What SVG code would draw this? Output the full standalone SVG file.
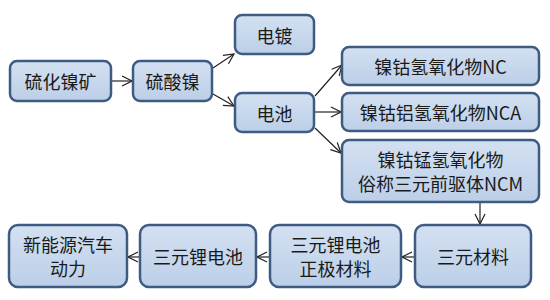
<svg xmlns="http://www.w3.org/2000/svg" width="550" height="300" viewBox="0 0 550 300">
<defs>
<linearGradient id="g" x1="0" y1="0" x2="0" y2="1">
<stop offset="0" stop-color="#d3e0f1"/>
<stop offset="1" stop-color="#bccfe8"/>
</linearGradient>
<marker id="a" viewBox="0 0 12 12" refX="11" refY="6" markerWidth="12" markerHeight="12" markerUnits="userSpaceOnUse" orient="auto">
<path d="M1,1 L11,6 L1,11" fill="none" stroke="#222" stroke-width="1.2"/>
</marker>
<style>
.n{fill:url(#g);stroke:#3f5b82;stroke-width:2.5}
.t{font-family:"Noto Sans CJK SC","Microsoft YaHei",sans-serif;font-size:18px;fill:#1a1a1a;text-anchor:middle;dominant-baseline:central}
.c{stroke:#222;stroke-width:1.2;fill:none;marker-end:url(#a)}
</style>
</defs>
<rect width="550" height="300" fill="#fff"/>
<g id="connectors">
<line class="c" x1="112" y1="81" x2="132" y2="81"/>
<line class="c" x1="213" y1="68" x2="234" y2="54"/>
<line class="c" x1="213" y1="94" x2="234" y2="106"/>
<line class="c" x1="315" y1="96" x2="342" y2="65"/>
<line class="c" x1="315" y1="112" x2="341" y2="112"/>
<line class="c" x1="315" y1="128" x2="341" y2="153"/>
<line class="c" x1="480" y1="203" x2="480" y2="224"/>
<line class="c" x1="414" y1="257" x2="402" y2="257"/>
<line class="c" x1="269" y1="257" x2="257" y2="257"/>
<line class="c" x1="139" y1="257" x2="128" y2="257"/>
</g>
<g id="n1"><rect class="n" x="10" y="61" width="101" height="40" rx="7"/><text class="t" x="60.5" y="81">硫化镍矿</text></g>
<g id="n2"><rect class="n" x="133" y="61" width="79" height="40" rx="7"/><text class="t" x="172.5" y="81">硫酸镍</text></g>
<g id="n3"><rect class="n" x="235" y="15" width="79" height="39" rx="7"/><text class="t" x="274.5" y="34.5">电镀</text></g>
<g id="n4"><rect class="n" x="235" y="93" width="79" height="39" rx="7"/><text class="t" x="274.5" y="112.5">电池</text></g>
<g id="n5"><rect class="n" x="342" y="47" width="197" height="38" rx="7"/><text class="t" x="440.5" y="66">镍钴氢氧化物NC</text></g>
<g id="n6"><rect class="n" x="342" y="93" width="197" height="38" rx="7"/><text class="t" x="440.5" y="112">镍钴铝氢氧化物NCA</text></g>
<g id="n7"><rect class="n" x="342" y="140" width="197" height="62" rx="7"/><text class="t" x="440.5" y="159">镍钴锰氢氧化物</text><text class="t" x="440.5" y="183">俗称三元前驱体NCM</text></g>
<g id="n8"><rect class="n" x="415" y="225" width="116" height="62" rx="9"/><text class="t" x="473" y="256">三元材料</text></g>
<g id="n9"><rect class="n" x="270" y="225" width="131" height="62" rx="9"/><text class="t" x="335.5" y="244">三元锂电池</text><text class="t" x="335.5" y="268">正极材料</text></g>
<g id="n10"><rect class="n" x="140" y="225" width="116" height="62" rx="9"/><text class="t" x="198" y="256">三元锂电池</text></g>
<g id="n11"><rect class="n" x="9" y="225" width="118" height="62" rx="9"/><text class="t" x="68" y="244">新能源汽车</text><text class="t" x="68" y="268">动力</text></g>
</svg>
